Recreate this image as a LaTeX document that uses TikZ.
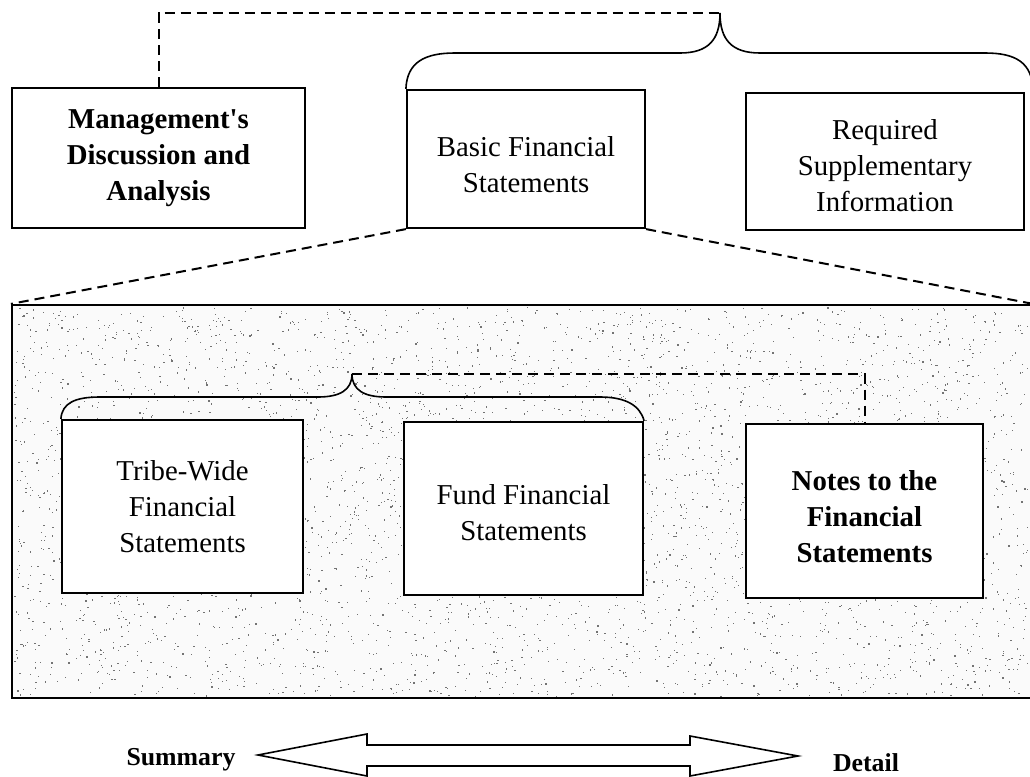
\documentclass[tikz,border=0pt]{standalone}
\usepackage{fontspec}
\setmainfont{Liberation Serif}
\tikzset{box/.style={draw, line width=1.1pt, fill=white, align=center, inner sep=2pt,
    font=\fontsize{14.4}{18}\selectfont}}
\tikzset{dashln/.style={line width=1pt, dash pattern=on 5pt off 3pt}}
\tikzset{brc/.style={line width=.8pt}}
\tikzset{endtxt/.style={font=\bfseries\fontsize{12.9}{15}\selectfont}}

\begin{document}
\begin{tikzpicture}[x=0.5pt, y=-0.5pt]
  \useasboundingbox (0,0) rectangle (1030,777);

  % top row
  \node[box, minimum width=146.5pt, minimum height=70pt] (mgmt) at (158.5,158)
    {\bfseries Management{\addfontfeatures{Ligatures=TeXOff}'}s\\ \bfseries Discussion and\\ \bfseries Analysis};
  \node[box, minimum width=119pt, minimum height=69pt] (basic) at (526,159)
    {\rule{0pt}{16pt}Basic Financial\\ Statements};
  \node[box, minimum width=139pt, minimum height=68.5pt] (req) at (885,161.5)
    {\rule{0pt}{14pt}Required\\ Supplementary\\ Information};

  % shaded panel
  \node[draw, line width=1.1pt, fill=black!2, minimum width=510pt, minimum height=196.5pt,
    inner sep=0pt] (panel) at (522,501.5) {};
  \pgfmathsetseed{11}
  \foreach \i in {1,...,4200}
    \fill[black!55] ({14+1014*rnd},{307+389*rnd}) rectangle ++(1.2,1.2);

  \node[box, minimum width=120.5pt, minimum height=86.5pt] (tribe) at (182.5,506.5)
    {Tribe-Wide\\ Financial\\ Statements};
  \node[box, minimum width=119.5pt, minimum height=86.5pt] (fund) at (523.5,508.5)
    {\rule{0pt}{14pt}Fund Financial\\ Statements};
  \node[box, minimum width=118.5pt, minimum height=87pt] (notes) at (864.5,511)
    {\rule{0pt}{16pt}\bfseries Notes to the\\ \bfseries Financial\\ \bfseries Statements};

  % braces
  \coordinate (toptip) at (720,13);
  \coordinate (intip) at (352,374);
  \draw[brc] (basic.north west) .. controls (407,62) and (425,53) .. (455,53) -- (680,53)
    .. controls (708,53) and (720,40) .. (toptip)
    .. controls (720,40) and (732,53) .. (760,53) -- (985,53)
    .. controls (1015,53) and (1033,62) .. (1033,92);
  \draw[brc] (tribe.north west) .. controls (62,403) and (75,397) .. (100,397) -- (318,397)
    .. controls (340,397) and (352,390) .. (intip)
    .. controls (352,390) and (364,397) .. (386,397) -- (600,397)
    .. controls (625,397) and (640,405) .. (fund.north east);

  % dashed links
  \draw[dashln] (mgmt.north) |- (toptip);
  \draw[dashln] (intip) -| (notes.north);
  \draw[dashln] (basic.south west) -- (panel.north west);
  \draw[dashln] (basic.south east) -- (panel.north east);

  % summary / detail
  \node[endtxt] (summ) at (181,760) {Summary};
  \node[endtxt] (det) at (866,763) {Detail};
  \draw[line width=.8pt] (258,755) -- (367,734) -- (367,745) -- (690,745) -- (690,736)
    -- (798,756) -- (690,776) -- (690,766) -- (367,766) -- (367,776) -- cycle;
\end{tikzpicture}
\end{document}
